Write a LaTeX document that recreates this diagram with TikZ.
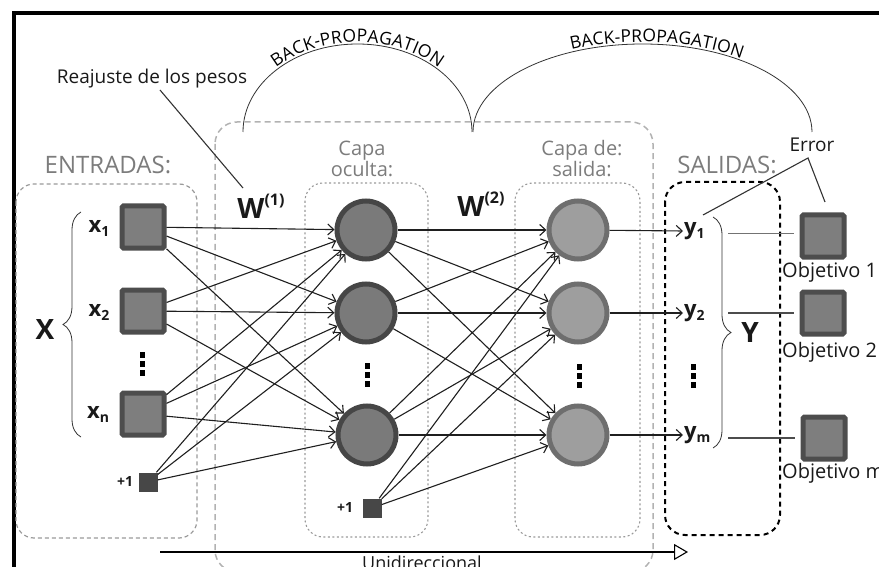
\documentclass[tikz,border=0pt]{standalone}
\usepackage{fontspec}
\setmainfont{Open Sans}
\usetikzlibrary{arrows.meta,decorations.text,decorations.pathreplacing}

\definecolor{sqedge}{HTML}{4D4D4D}
\definecolor{sqfill}{HTML}{7E7E7E}
\definecolor{hidedge}{HTML}{464646}
\definecolor{hidfill}{HTML}{7A7A7A}
\definecolor{outedge}{HTML}{6E6E6E}
\definecolor{outfill}{HTML}{9E9E9E}
\definecolor{biasfill}{HTML}{474747}
\definecolor{headgray}{HTML}{7C7C7C}
\definecolor{boxgray}{HTML}{9A9A9A}

% variable label: bold letter with a lowered index
\newcommand\vlab[2]{{\bfseries\fontsize{22}{22}\selectfont #1\raisebox{-4pt}{\fontsize{14}{14}\selectfont #2}}}
% weight label: bold W with a raised index
\newcommand\wlab[1]{{\bfseries\fontsize{28}{28}\selectfont W\raisebox{13pt}{\fontsize{16}{16}\selectfont (#1)}}}
\newcommand\bpfont{\fontsize{17.5}{17.5}\selectfont}

\begin{document}
\begin{tikzpicture}[x=1pt,y=-1pt,
  unit/.style={draw=sqedge, fill=sqfill, line width=5pt, minimum size=42pt,
    inner sep=0pt, rounded corners=1.5pt},
  hidden/.style={circle, draw=hidedge, fill=hidfill, line width=5pt,
    minimum size=58pt, inner sep=0pt},
  outn/.style={circle, draw=outedge, fill=outfill, line width=5pt,
    minimum size=58pt, inner sep=0pt},
  bias/.style={fill=biasfill, minimum size=19pt, inner sep=0pt},
  head/.style={text=headgray, inner sep=0pt, align=center},
  plain/.style={text=black!90, inner sep=0pt},
  wire/.style={line width=1.1pt, draw=black!88,
    -{Straight Barb[length=6pt,width=11pt]}},
  tline/.style={line width=1.3pt, draw=black!70},
  thin/.style={line width=0.8pt, draw=black!80},
  layerbox/.style={draw=boxgray, line width=1.1pt, dash pattern=on 2pt off 2.5pt,
    rounded corners=18pt},
  bigbox/.style={draw=black!30, line width=1.5pt, dash pattern=on 6pt off 4pt,
    rounded corners=22pt},
  brc/.style={thin, decorate, decoration={brace, amplitude=18pt}},
]
\useasboundingbox (0,0) rectangle (879,567);

% frame
\draw[line width=4pt] (13.5,580) -- (13.5,13.5) -- (890,13.5);

% group boxes
\draw[draw=boxgray, line width=1.2pt, dash pattern=on 4pt off 3pt, rounded corners=18pt]
  (16,184) rectangle (197,538);
\draw[bigbox] (215,122) rectangle (653,572);
\draw[layerbox] (305,183) rectangle (428,537);
\draw[layerbox] (515,183) rectangle (640,537);
\draw[line width=2pt, dash pattern=on 5pt off 4pt, rounded corners=20pt]
  (665,182) rectangle (780,535);

% headers
\node[head, font=\fontsize{24}{24}\selectfont] (hin) at (108,165) {ENTRADAS:};
\node[head, font=\fontsize{20}{16}\selectfont] (hhid) at (362,159) {Capa\\oculta:};
\node[head, font=\fontsize{20}{16}\selectfont] (hout) at (582,159) {Capa de:\\salida:};
\node[head, font=\fontsize{24}{24}\selectfont] (hres) at (727,165) {SALIDAS:};

% input layer
\node[unit] (x1) at (143,227) {};
\node[unit] (x2) at (143,311) {};
\node[unit] (xn) at (143,414) {};
\node[bias] (b1) at (148,482) {};
\node[plain] (lx1) at (99,228) {\vlab{x}{1}};
\node[plain] (lx2) at (99,312) {\vlab{x}{2}};
\node[plain] (lxn) at (98,414) {\vlab{x}{n}};
\node[plain, font=\bfseries\fontsize{14}{14}\selectfont] (lb1) at (125,482) {+1};

% hidden layer
\node[hidden] (h1) at (366,230) {};
\node[hidden] (h2) at (366,313) {};
\node[hidden] (h3) at (367,435) {};
\node[bias] (b2) at (372,508) {};
\node[plain, font=\bfseries\fontsize{14}{14}\selectfont] (lb2) at (345,508) {+1};

% output layer
\node[outn] (o1) at (578,230) {};
\node[outn] (o2) at (578,313) {};
\node[outn] (o3) at (578,435) {};

% outputs
\node[plain, anchor=west, inner sep=1pt] (y1) at (683,231) {\vlab{y}{1}};
\node[plain, anchor=west, inner sep=1pt] (y2) at (683,313) {\vlab{y}{2}};
\node[plain, anchor=west, inner sep=1pt] (ym) at (683,435) {\vlab{y}{m}};

% targets
\node[unit] (t1) at (823,236) {};
\node[unit] (t2) at (823,313) {};
\node[unit] (t3) at (824,438) {};
\node[plain, anchor=west, font=\fontsize{20}{20}\selectfont] (lt1) at (782,272) {Objetivo 1};
\node[plain, anchor=west, font=\fontsize{20}{20}\selectfont] (lt2) at (782,352) {Objetivo 2};
\node[plain, anchor=west, font=\fontsize{20}{20}\selectfont] (lt3) at (782,473) {Objetivo m};

% vertical ellipses
\foreach \cx/\cy in {142/364, 367/375, 579/376, 693/376}{
  \foreach \d in {-9,0,9}
    \fill[black] (\cx-2.5,\cy+\d-3) rectangle ++(5,5.5);
}

% weights
\foreach \s in {x1,x2,xn,b1}
  \foreach \t in {h1,h2,h3}
    \draw[wire] (\s) -- (\t);
\foreach \s in {h1,h2,h3,b2}
  \foreach \t in {o1,o2,o3}
    \draw[wire] (\s) -- (\t);
\draw[wire] (o1) -- (y1.west);
\draw[wire] (o2) -- (y2.west);
\draw[wire] (o3) -- (ym.west);

\node[plain] (w1) at (261,206) {\wlab{1}};
\node[plain] (w2) at (481,204) {\wlab{2}};

% braces
\draw[brc] (81,437) -- (81,212);
\node[plain, font=\bfseries\fontsize{28}{28}\selectfont] (bx) at (45,330) {X};
\draw[brc] (713,217) -- (713,448);
\node[plain, font=\bfseries\fontsize{28}{28}\selectfont] (by) at (750,333) {Y};

% outputs compared with targets
\coordinate (ly1) at (728,234);
\coordinate (ly2) at (728,313);
\coordinate (ly3) at (728,438);
\draw[tline, draw=black!55, line width=1pt, shorten >=6pt] (ly1) -- (ly1 -| t1.west);
\draw[tline, shorten >=6pt] (ly2) -- (ly2 -| t2.west);
\draw[tline, shorten >=6pt] (ly3) -- (ly3 -| t3.west);

% error
\node[plain, font=\fontsize{19}{19}\selectfont] (err) at (812,145) {Error};
\coordinate (eapex) at (808,158);
\coordinate (ey) at (703,215);
\coordinate (et) at (825,202);
\draw[thin, line width=1.1pt] (ey) -- (eapex) -- (et);

% weight readjustment
\node[plain, font=\fontsize{19}{19}\selectfont] (reaj) at (152,79) {Reajuste de los pesos};
\coordinate (rs) at (160,90);
\coordinate (re) at (243,188);
\draw[thin, line width=1.1pt] (rs) -- (re);

% back-propagation arcs
\draw[thin] (243,132) arc[start angle=180, end angle=0, x radius=114.5pt, y radius=88pt];
\path[decorate, decoration={text along path, text=|\bpfont|BACK-PROPAGATION,
    text align=center, raise=2pt}]
  (243,132) arc[start angle=180, end angle=0, x radius=114.5pt, y radius=88pt];
\draw[thin] (473,132) arc[start angle=180, end angle=0, x radius=169.5pt, y radius=88pt];
\path[decorate, decoration={text along path, text=|\bpfont|BACK-PROPAGATION,
    text align={left indent=136pt}, raise=2pt}]
  (473,132) arc[start angle=180, end angle=0, x radius=169.5pt, y radius=88pt];

% direction of propagation
\coordinate (ua) at (160,552);
\coordinate (ub) at (688,552);
\draw[line width=1.1pt, -{Triangle[open, length=14pt, width=16pt, fill=white]}] (ua) -- (ub);
\node[plain, anchor=base, font=\fontsize{18}{18}\selectfont] (uni) at (422,569) {Unidireccional};
\end{tikzpicture}
\end{document}
